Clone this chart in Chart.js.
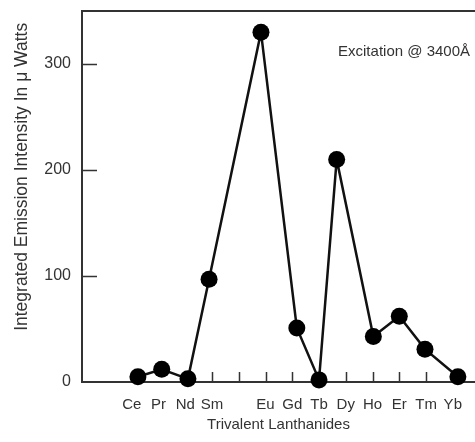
<!DOCTYPE html>
<html lang="en">
<head>
  <meta charset="UTF-8" />
  <title>Integrated Emission Intensity of Trivalent Lanthanides</title>
  <style>
    html, body {
      margin: 0;
      padding: 0;
      background: #fff;
    }
    #wrap {
      width: 475px;
      height: 442px;
    }
  </style>
</head>
<body>
  <div id="wrap">
    <canvas id="emissionChart" aria-label="Integrated emission intensity by trivalent lanthanide" role="img"></canvas>
  </div>

  <script src="https://cdn.jsdelivr.net/npm/chart.js"></script>
  <script>
    // bottom axis: one slot per element, slot 5 has no label
    const tickLabels = ['Ce', 'Pr', 'Nd', 'Sm', '', 'Eu', 'Gd', 'Tb', 'Dy', 'Ho', 'Er', 'Tm', 'Yb'];
    const tickSlots = [1, 2, 3, 4, 5, 6, 7, 8, 9, 10, 11, 12, 13];
    const markSlots = [4, 5, 6, 7, 8, 9, 10, 11, 12];
    const yTicks = [0, 100, 200, 300];

    // measured points (x = slot position, y = intensity in µW)
    const ions = ['Ce', 'Pr', 'Nd', 'Sm', 'Eu', 'Gd', 'Tb', 'Dy', 'Ho', 'Er', 'Tm', 'Yb'];
    const ionPos = [1.23, 2.12, 3.1, 3.89, 5.83, 7.17, 8.0, 8.66, 10.03, 11.0, 11.96, 13.19];
    const intensity = [5, 12, 3, 97, 330, 51, 2, 210, 43, 62, 31, 5];

    const FONT = '"Liberation Sans", Arial, sans-serif';
    const INK = '#333';

    // top frame line, inward tick marks, y title and the note
    const frame = {
      id: 'frame',
      beforeDatasetsDraw(chart) {
        const { ctx, chartArea: a, scales: { x, y } } = chart;
        ctx.save();
        ctx.strokeStyle = INK;
        ctx.lineWidth = 2;
        ctx.beginPath();
        ctx.moveTo(a.left, a.top);
        ctx.lineTo(a.right, a.top);
        ctx.stroke();

        ctx.lineWidth = 1.5;
        ctx.beginPath();
        markSlots.forEach(v => {
          const px = Math.round(x.getPixelForValue(v)) + 0.5;
          ctx.moveTo(px, a.bottom);
          ctx.lineTo(px, a.bottom - 10);
        });
        yTicks.slice(1).forEach(v => {
          const py = Math.round(y.getPixelForValue(v)) + 0.5;
          ctx.moveTo(a.left, py);
          ctx.lineTo(a.left + 15, py);
        });
        ctx.stroke();
        ctx.restore();
      },
      afterDraw(chart) {
        const { ctx, chartArea: a } = chart;
        ctx.save();
        ctx.fillStyle = INK;
        ctx.textBaseline = 'middle';

        ctx.font = '15px ' + FONT;
        ctx.textAlign = 'right';
        ctx.fillText('Excitation @ 3400Å', a.right - 5, a.top + 41);

        ctx.translate(a.left - 60, a.top + (a.bottom - a.top) * 0.447);
        ctx.rotate(-Math.PI / 2);
        ctx.textAlign = 'center';
        ctx.font = '17.5px ' + FONT;
        ctx.fillText('Integrated Emission Intensity In μ Watts', 0, 0);
        ctx.restore();
      }
    };

    const noEdgePadding = scale => {
      scale.paddingTop = 0;
      scale.paddingBottom = 0;
      scale.paddingLeft = 0;
      scale.paddingRight = 0;
    };

    const ctx = document.getElementById('emissionChart').getContext('2d');

    new Chart(ctx, {
      type: 'line',
      data: {
        datasets: [{
          label: 'Integrated emission intensity',
          data: ions.map((name, i) => ({ x: ionPos[i], y: intensity[i] })),
          borderColor: '#111',
          borderWidth: 2.5,
          pointRadius: 8.5,
          pointBackgroundColor: '#000',
          pointBorderWidth: 0,
          tension: 0,
          clip: false
        }]
      },
      options: {
        responsive: true,
        maintainAspectRatio: false,
        animation: false,
        layout: {
          autoPadding: false,
          padding: { top: 11, right: 0, bottom: 0, left: 0 }
        },
        plugins: {
          legend: { display: false },
          tooltip: { enabled: false }
        },
        scales: {
          x: {
            type: 'linear',
            min: -0.86,
            max: 13.83,
            afterBuildTicks: scale => {
              scale.ticks = tickSlots.map(v => ({ value: v }));
            },
            afterFit: scale => {
              scale.height = 60;
              noEdgePadding(scale);
            },
            grid: { display: false, drawTicks: false },
            border: { color: INK, width: 2 },
            ticks: {
              autoSkip: false,
              maxRotation: 0,
              padding: 14,
              color: INK,
              font: { family: FONT, size: 15 },
              callback: (value, index) => tickLabels[index]
            },
            title: {
              display: true,
              text: 'Trivalent Lanthanides',
              color: INK,
              font: { family: FONT, size: 15 },
              padding: { top: 0, bottom: 8 }
            }
          },
          y: {
            min: 0,
            max: 350,
            afterBuildTicks: scale => {
              scale.ticks = yTicks.map(v => ({ value: v }));
            },
            afterFit: scale => {
              scale.width = 82;
              noEdgePadding(scale);
            },
            grid: { display: false, drawTicks: false },
            border: { color: INK, width: 2 },
            ticks: {
              padding: 11,
              color: INK,
              font: { family: FONT, size: 16 }
            }
          }
        }
      },
      plugins: [frame]
    });
  </script>
</body>
</html>
